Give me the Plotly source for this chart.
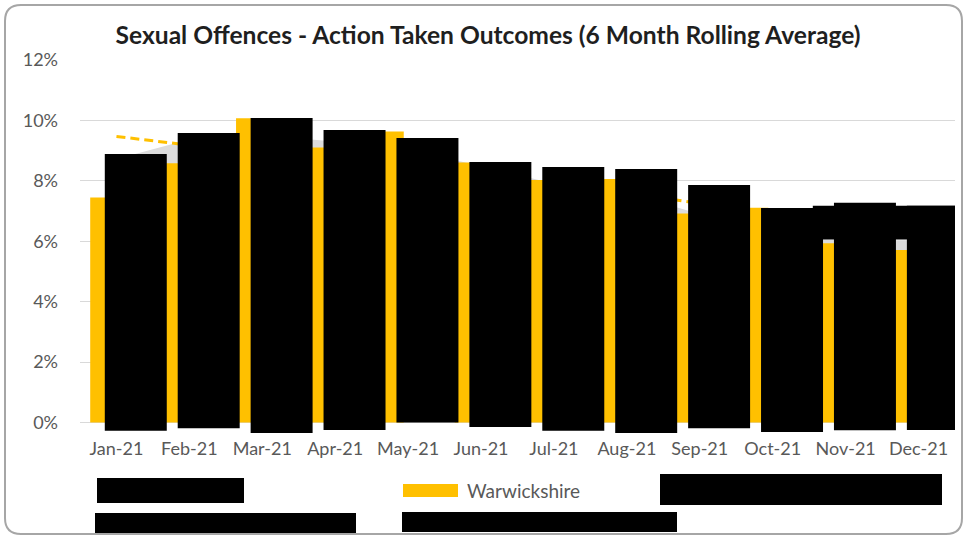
import plotly.graph_objects as go

# ---- data ----
months = ["Jan-21", "Feb-21", "Mar-21", "Apr-21", "May-21", "Jun-21",
          "Jul-21", "Aug-21", "Sep-21", "Oct-21", "Nov-21", "Dec-21"]
warwickshire = [7.45, 8.58, 10.07, 9.10, 9.63, 8.61, 8.03, 8.06, 6.92, 7.11, 5.93, 5.71]
grey_area = [8.72, 9.37, 9.50, 9.30, 9.00, 8.50, 7.90, 7.60, 6.90, 6.10, 6.03, 6.03]
dashed_line = [9.47, 9.18, 9.00, 8.80, 8.60, 8.20, 7.80, 7.60, 7.25, 6.90, 6.70, 6.50]
# redacted series (black boxes over the hidden series)
redacted_top = [8.89, 9.58, 10.08, 9.68, 9.42, 8.62, 8.46, 8.39, 7.86, 7.10, 7.27, 7.17]
redacted_base = [-0.28, -0.19, -0.35, -0.25, 0.0, -0.15, -0.28, -0.35, -0.19, -0.32, -0.26, -0.25]
strip_months = ["Nov-21", "Dec-21"]
strip_top = [7.17, 7.17]
strip_base = [6.06, 6.06]
y_ticks = [0, 2, 4, 6, 8, 10, 12]
y_tick_labels = ["0%", "2%", "4%", "6%", "8%", "10%", "12%"]

ORANGE = "#FFC000"
TXT = "#595959"
FONT = "Lato"

W, H = 966, 537
ML, MR, MT, MB = 80, 11, 60, 101
PW, PH = W - ML - MR, H - MT - MB


def px(x):
    return (x - ML) / PW


def py(y):
    return (H - MB - y) / PH


fig = go.Figure()

# bottom layer: grey area and dashed line
fig.add_trace(go.Scatter(x=months, y=grey_area, mode="lines", fill="tozeroy",
                         line=dict(width=0, color="#D9D9D9"), fillcolor="#DCDCDC",
                         showlegend=False, hoverinfo="skip", yaxis="y"))
fig.add_trace(go.Scatter(x=months, y=dashed_line, mode="lines",
                         line=dict(color=ORANGE, width=3, dash="9px,5px"),
                         showlegend=False, yaxis="y"))

# top layer: bars
fig.add_trace(go.Bar(x=months, y=warwickshire, name="Warwickshire",
                     marker=dict(color=ORANGE, line=dict(width=0)),
                     offset=-0.36, width=0.3, showlegend=False, yaxis="y2"))
fig.add_trace(go.Bar(x=months, y=[t - b for t, b in zip(redacted_top, redacted_base)],
                     base=redacted_base,
                     marker=dict(color="black", line=dict(width=0)),
                     offset=-0.16, width=0.85, showlegend=False, yaxis="y2",
                     hoverinfo="skip"))
fig.add_trace(go.Bar(x=strip_months, y=[t - b for t, b in zip(strip_top, strip_base)],
                     base=strip_base,
                     marker=dict(color="black", line=dict(width=0)),
                     offset=[-0.45, -0.36], width=[0.5, 0.93], showlegend=False,
                     yaxis="y2", hoverinfo="skip"))

yr = [-0.45, 12.0]
fig.update_layout(
    width=W, height=H,
    margin=dict(l=ML, r=MR, t=MT, b=MB),
    paper_bgcolor="white", plot_bgcolor="white",
    barmode="overlay",
    showlegend=False,
    font=dict(family=FONT, color=TXT, size=18),
    title=dict(text="<b>Sexual Offences - Action Taken Outcomes (6 Month Rolling Average)</b>",
               x=488 / W, xanchor="center", y=1 - 35 / H, yanchor="middle",
               yref="container", font=dict(family=FONT, size=24.6, color="#1F1F1F")),
    xaxis=dict(type="category", showgrid=False, showline=False, zeroline=False,
               ticks="", tickfont=dict(size=18, color=TXT), range=[-0.5, 11.5],
               ticklabelstandoff=0),
    yaxis=dict(range=yr, tickvals=y_ticks, ticktext=y_tick_labels, showgrid=True,
               gridcolor="#D9D9D9", gridwidth=1, zeroline=False, showline=False,
               ticks="", tickfont=dict(size=18, color=TXT), ticklabelstandoff=21),
    yaxis2=dict(range=yr, overlaying="y", visible=False, showgrid=False,
                zeroline=False),
)

shapes = []
# rounded chart border
x0, y0, x1, y1, r = 5, 5, 962, 534, 16
pts = (f"M {px(x0 + r)},{py(y0)} L {px(x1 - r)},{py(y0)} "
       f"Q {px(x1)},{py(y0)} {px(x1)},{py(y0 + r)} "
       f"L {px(x1)},{py(y1 - r)} Q {px(x1)},{py(y1)} {px(x1 - r)},{py(y1)} "
       f"L {px(x0 + r)},{py(y1)} Q {px(x0)},{py(y1)} {px(x0)},{py(y1 - r)} "
       f"L {px(x0)},{py(y0 + r)} Q {px(x0)},{py(y0)} {px(x0 + r)},{py(y0)} Z")
shapes.append(dict(type="path", path=pts, xref="paper", yref="paper",
                   line=dict(color="#A6A6A6", width=2), layer="above"))
# legend swatch for Warwickshire
shapes.append(dict(type="rect", xref="paper", yref="paper",
                   x0=px(403), x1=px(458), y0=py(497), y1=py(484),
                   fillcolor=ORANGE, line=dict(width=0), layer="above"))
# redacted legend entries
for bx0, by0, bx1, by1 in [(97, 478, 244, 503), (660, 474, 942, 505),
                           (95, 513, 356, 533), (402, 512, 677, 532)]:
    shapes.append(dict(type="rect", xref="paper", yref="paper",
                       x0=px(bx0), x1=px(bx1), y0=py(by1), y1=py(by0),
                       fillcolor="black", line=dict(width=0), layer="above"))
fig.update_layout(shapes=shapes)

fig.add_annotation(text="Warwickshire", xref="paper", yref="paper",
                   x=px(465), y=py(491), xanchor="left", yanchor="middle",
                   showarrow=False, font=dict(family=FONT, size=19, color=TXT))

fig.write_html("out.html", config={"displayModeBar": False},
               post_script="document.body.style.margin='0';")
